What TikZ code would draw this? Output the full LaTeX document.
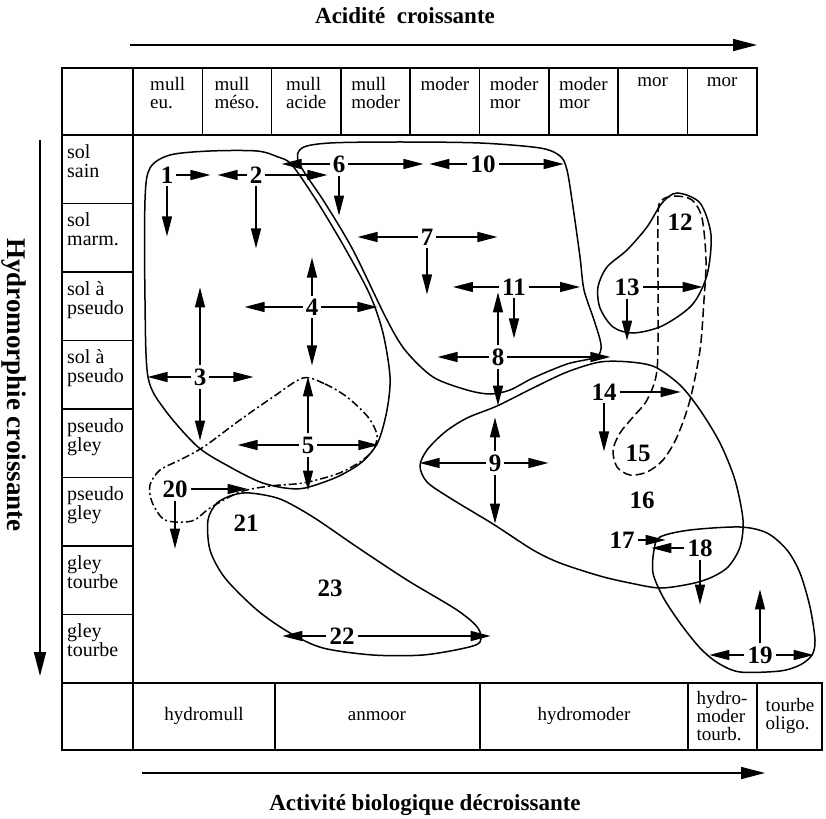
\documentclass[tikz,border=0pt]{standalone}
\usepackage{fontspec}
\setmainfont{Liberation Serif}
\usetikzlibrary{arrows.meta}

\tikzset{
  grid/.style={line width=1.6pt},
  blob/.style={line width=1.5pt},
  arr/.style={line width=1.4pt, -{Triangle[length=20pt,width=10pt]}},
  bigarr/.style={line width=1.6pt, -{Triangle[length=24pt,width=12pt]}},
  num/.style={font=\fontsize{25}{25}\selectfont\bfseries, inner sep=3pt},
  cell/.style={font=\fontsize{19}{18}\selectfont, align=left, inner sep=0pt},
  axis/.style={font=\fontsize{23}{23}\selectfont\bfseries},
}

\begin{document}
\begin{tikzpicture}[x=1pt, y=-1pt]
  \useasboundingbox (0,0) rectangle (826,818);

  % axes
  \node[axis] (acid) at (405,16) {Acidité\ \ croissante};
  \draw[bigarr] (130,45) -- (757,45);
  \node[axis] (activ) at (425,805) {Activité biologique décroissante};
  \draw[bigarr] (142,773) -- (765,773);
  \node[axis, font=\fontsize{27}{27}\selectfont\bfseries, rotate=-90] (hydro) at (14,385) {Hydromorphie croissante};
  \draw[bigarr] (40,140) -- (40,676);

  % humus forms (top)
  \draw[grid] (62,68) rectangle (757,135);
  \foreach \i/\txt in {0/{mull\\eu.}, 1/{mull\\méso.}, 2/{mull\\acide}, 3/{mull\\moder},
                       4/{moder}, 5/{moder\\mor}, 6/{moder\\mor}, 7/{mor}, 8/{mor}} {
    \pgfmathsetmacro\xpos{133 + \i*69.3}
    \draw[grid] (\xpos,68) -- (\xpos,135);
    \node[cell, anchor=north] (h\i) at (\xpos+34.65,77) {\txt};
  }

  % soil moisture classes (left)
  \draw[grid] (62,135) -- (62,750);
  \draw[grid] (133,135) -- (133,683);
  \foreach \j/\txt in {0/{sol\\sain}, 1/{sol\\marm.}, 2/{sol à\\pseudo}, 3/{sol à\\pseudo},
                       4/{pseudo\\gley}, 5/{pseudo\\gley}, 6/{gley\\tourbe}, 7/{gley\\tourbe}} {
    \draw[grid] (62,135+68.5*\j) -- (133,135+68.5*\j);
    \node[cell, font=\fontsize{20}{19}\selectfont, anchor=north west] (r\j) at (67,135+68.5*\j+9) {\txt};
  }

  % hydromorphic humus forms (bottom)
  \draw[grid] (62,683) rectangle (822,750);
  \foreach \x in {133,275,480,688,757}
    \draw[grid] (\x,683) -- (\x,750);
  \node[cell] (b1) at (204,716) {hydromull};
  \node[cell] (b2) at (377,716) {anmoor};
  \node[cell] (b3) at (584,716) {hydromoder};
  \node[cell] (b4) at (722,716) {hydro-\\moder\\tourb.};
  \node[cell] (b5) at (790,716) {tourbe\\oligo.};

  % groups
  \draw[blob] plot[smooth cycle] coordinates {(145,200) (150,168) (170,155) (210,151) (257,151)
    (278,157) (292,165) (318,203) (346,250) (370,295) (383,333) (390,377) (387,410) (378,442)
    (362,462) (337,477) (305,488) (285,488) (260,482) (230,467) (198,447) (165,410) (148,377) (145,300)};
  \draw[blob] plot[smooth cycle] coordinates {(299,163) (302,148) (330,143) (400,142) (480,143)
    (540,148) (560,156) (567,170) (573,207) (580,257) (584,290) (594,320) (601,345) (596,357)
    (567,364) (533,378) (510,390) (490,394) (467,390) (433,377) (405,350) (386,318) (353,250) (325,203)};
  \draw[blob] plot[smooth cycle] coordinates {(420,466) (427,450) (445,432) (467,418) (497,406)
    (533,388) (567,372) (600,362) (630,362) (655,367) (680,385) (700,410) (720,443) (735,480)
    (743,520) (740,547) (728,567) (710,578) (690,584) (660,588) (630,583) (600,576) (560,563)
    (533,550) (493,524) (450,498) (427,482)};
  \draw[blob] plot[smooth cycle] coordinates {(677,193) (700,203) (711,235) (707,275) (692,305)
    (662,326) (633,333) (613,327) (600,308) (598,287) (607,267) (627,250) (647,227) (662,203)};
  \draw[blob, dash pattern=on 9pt off 4pt] plot[smooth cycle] coordinates {(658,215) (662,200)
    (675,196) (692,200) (702,218) (706,260) (704,300) (700,350) (690,400) (677,437) (663,460)
    (647,472) (630,475) (617,467) (613,450) (620,433) (633,417) (647,400) (657,370) (658,300)};
  \draw[blob, dash pattern=on 8pt off 3pt on 2pt off 3pt] plot[smooth cycle] coordinates {(303,378)
    (325,384) (347,397) (368,417) (377,435) (373,450) (360,462) (337,474) (303,483) (270,486)
    (240,492) (210,508) (192,521) (165,520) (152,502) (150,485) (160,470) (182,459) (205,446)
    (240,420) (273,397)};
  \draw[blob] plot[smooth cycle] coordinates {(660,537) (690,530) (740,527) (767,533) (787,550)
    (800,573) (810,607) (815,640) (812,655) (800,665) (780,671) (740,672) (718,663) (700,648)
    (680,623) (663,597) (653,573) (654,550)};
  \draw[blob] plot[smooth cycle] coordinates {(250,493) (280,499) (313,517) (357,547) (407,580)
    (457,610) (478,628) (480,642) (465,648) (423,655) (373,655) (323,648) (290,633) (257,610)
    (225,578) (210,550) (208,520) (217,503) (233,495)};

  % numbered soil types
  \foreach \n/\x/\y in {1/167/175, 2/256/175, 3/200/377, 4/312/307, 5/308/445, 6/339/164,
                        7/427/237, 8/498/357, 9/495/463, 10/483/164, 11/514/287, 12/680/222,
                        13/627/287, 14/604/392, 15/638/453, 16/642/500, 17/622/540, 18/700/548,
                        19/760/655, 20/175/489, 21/246/523, 22/342/636, 23/330/588}
    \node[num] (n\n) at (\x,\y) {\n};

  % possible evolutions
  \draw[arr] (n1.east) -- ++(34,0);
  \draw[arr] (n1.south) -- ++(0,50);
  \draw[arr] (n2.west) -- ++(-29,0);
  \draw[arr] (n2.east) -- ++(62,0);
  \draw[arr] (n2.south) -- ++(0,62);
  \draw[arr] (n3.west) -- ++(-43,0);
  \draw[arr] (n3.east) -- ++(44,0);
  \draw[arr] (n3.north) -- ++(0,-78);
  \draw[arr] (n3.south) -- ++(0,52);
  \draw[arr] (n4.west) -- ++(-58,0);
  \draw[arr] (n4.east) -- ++(56,0);
  \draw[arr] (n4.north) -- ++(0,-38);
  \draw[arr] (n4.south) -- ++(0,47);
  \draw[arr] (n5.west) -- ++(-61,0);
  \draw[arr] (n5.east) -- ++(61,0);
  \draw[arr] (n5.north) -- ++(0,-57);
  \draw[arr] (n5.south) -- ++(0,34);
  \draw[arr] (n6.west) -- ++(-48,0);
  \draw[arr] (n6.east) -- ++(75,0);
  \draw[arr] (n6.south) -- ++(0,40);
  \draw[arr] (n7.west) -- ++(-60,0);
  \draw[arr] (n7.east) -- ++(61,0);
  \draw[arr] (n7.south) -- ++(0,46);
  \draw[arr] (n8.west) -- ++(-51,0);
  \draw[arr] (n8.east) -- ++(103,0);
  \draw[arr] (n8.north) -- ++(0,-53);
  \draw[arr] (n8.south) -- ++(0,37);
  \draw[arr] (n9.west) -- ++(-66,0);
  \draw[arr] (n9.east) -- ++(44,0);
  \draw[arr] (n9.north) -- ++(0,-34);
  \draw[arr] (n9.south) -- ++(0,49);
  \draw[arr] (n10.west) -- ++(-38,0);
  \draw[arr] (n10.east) -- ++(65,0);
  \draw[arr] (n11.west) -- ++(-46,0);
  \draw[arr] (n11.east) -- ++(51,0);
  \draw[arr] (n11.south) -- ++(0,40);
  \draw[arr] (n13.east) -- ++(60,0);
  \draw[arr] (n13.south) -- ++(0,42);
  \draw[arr] (n14.east) -- ++(61,0);
  \draw[arr] (n14.south) -- ++(0,48);
  \draw[arr] (n17.east) -- ++(28,0);
  \draw[arr] (n18.west) -- ++(-33,0);
  \draw[arr] (n18.south) -- ++(0,45);
  \draw[arr] (n19.west) -- ++(-35,0);
  \draw[arr] (n19.east) -- ++(38,0);
  \draw[arr] (n19.north) -- ++(0,-54);
  \draw[arr] (n20.east) -- ++(57,0);
  \draw[arr] (n20.south) -- ++(0,48);
  \draw[arr] (n22.west) -- ++(-44,0);
  \draw[arr] (n22.east) -- ++(133,0);
\end{tikzpicture}
\end{document}
